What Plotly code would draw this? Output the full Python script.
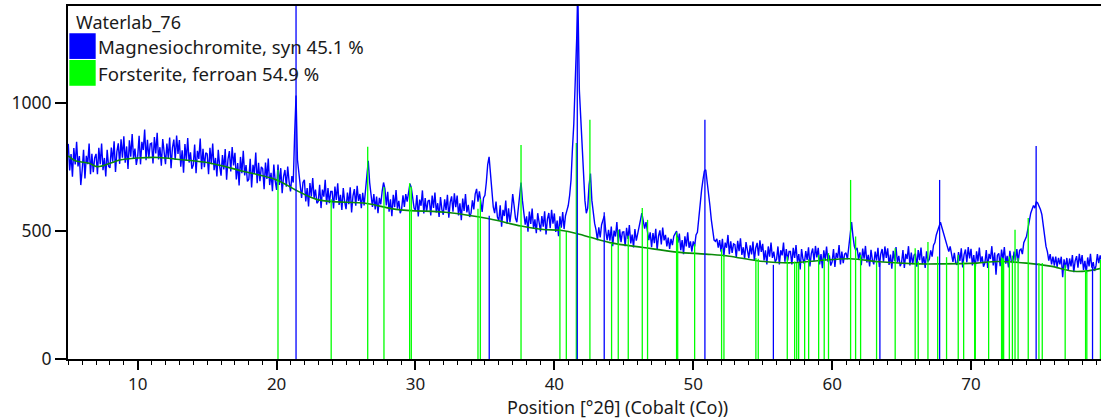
import plotly.graph_objects as go

# ---------------- data ----------------
sample_name = "Waterlab_76"
phase_names = ["Magnesiochromite, syn 45.1 %", "Forsterite, ferroan 54.9 %"]

# observed pattern, read every 0.1 deg 2theta starting at 5.0
obs_start = 5.0
obs_step = 0.1
obs_counts = [
    841, 737, 801, 713, 825, 761, 849, 753, 793, 680,   # 5
    738, 818, 706, 794, 762, 842, 722, 802, 730, 786,   # 6
    802, 722, 826, 762, 842, 738, 786, 714, 818, 754,   # 7
    747, 827, 771, 851, 731, 811, 843, 763, 859, 787,   # 8
    871, 767, 831, 743, 855, 791, 879, 783, 823, 759,   # 9
    793, 873, 761, 849, 817, 897, 777, 857, 785, 841,   # 10
    844, 764, 868, 804, 884, 780, 828, 756, 860, 796,   # 11
    762, 842, 786, 866, 746, 826, 858, 778, 874, 802,   # 12
    856, 752, 816, 728, 840, 776, 864, 768, 808, 744,   # 13
    758, 838, 726, 814, 782, 862, 742, 822, 750, 806,   # 14
    802, 722, 826, 762, 842, 738, 786, 714, 818, 754,   # 15
    717, 797, 741, 821, 701, 781, 813, 733, 829, 757,   # 16
    806, 702, 766, 678, 790, 726, 814, 718, 758, 694,   # 17
    703, 783, 671, 759, 727, 807, 687, 767, 695, 751,   # 18
    744, 664, 768, 704, 784, 680, 728, 656, 760, 696,   # 19
    661, 760, 680, 746, 648, 713, 739, 674, 752, 693,   # 20
    655, 715, 690, 880, 1030, 780, 730, 680, 630, 690,  # 21
    701, 616, 668, 596, 688, 635, 707, 629, 662, 609,   # 22
    616, 681, 590, 662, 635, 701, 603, 668, 609, 655,   # 23
    655, 589, 674, 622, 687, 602, 642, 583, 668, 615,   # 24
    586, 651, 605, 671, 573, 638, 664, 599, 677, 618,   # 25
    645, 590, 650, 600, 665, 720, 775, 690, 625, 595,   # 26
    645, 585, 635, 570, 630, 605, 655, 690, 665, 600,   # 27
    654, 576, 624, 558, 642, 594, 660, 588, 618, 570,   # 28
    585, 640, 595, 645, 615, 660, 685, 670, 625, 590,   # 29
    581, 641, 557, 623, 599, 659, 569, 629, 575, 617,   # 30
    621, 561, 639, 591, 651, 573, 609, 555, 633, 585,   # 31
    564, 624, 582, 642, 552, 612, 636, 576, 648, 594,   # 32
    639, 561, 609, 543, 627, 579, 645, 573, 603, 555,   # 33
    570, 620, 585, 645, 665, 615, 655, 605, 575, 630,   # 34
    640, 690, 760, 790, 720, 640, 595, 570, 615, 555,   # 35
    541, 601, 517, 583, 559, 619, 529, 589, 535, 577,   # 36
    645, 600, 550, 535, 585, 640, 690, 620, 560, 525,   # 37
    558, 498, 576, 528, 588, 510, 546, 492, 570, 522,   # 38
    499, 559, 517, 577, 487, 547, 571, 511, 583, 529,   # 39
    569, 497, 541, 480, 558, 513, 574, 508, 560, 580,   # 40
    600, 640, 700, 820, 920, 1080, 1300, 1400, 1050, 940,  # 41
    840, 720, 620, 570, 590, 680, 725, 620, 570, 530,   # 42
    505, 465, 515, 475, 525, 545, 560, 500, 465, 505,   # 43
    463, 518, 441, 502, 479, 535, 452, 507, 457, 496,   # 44
    497, 441, 513, 469, 524, 452, 486, 436, 508, 463,   # 45
    490, 525, 545, 570, 540, 510, 535, 490, 465, 495,   # 46
    437, 492, 453, 509, 426, 481, 503, 448, 514, 464,   # 47
    485, 440, 475, 430, 470, 445, 480, 490, 500, 455,   # 48
    490, 425, 465, 410, 480, 440, 495, 435, 460, 420,   # 49
    460, 440, 485, 495, 560, 620, 660, 700, 735, 740,   # 50
    700, 650, 600, 545, 505, 465, 460, 470, 435, 465,   # 51
    420, 470, 400, 455, 435, 485, 410, 460, 415, 450,   # 52
    447, 397, 462, 422, 472, 407, 437, 392, 457, 417,   # 53
    394, 444, 409, 459, 384, 434, 454, 404, 464, 419,   # 54
    450, 385, 425, 370, 440, 400, 455, 395, 420, 380,   # 55
    390, 440, 370, 425, 405, 455, 380, 430, 385, 420,   # 56
    420, 370, 435, 395, 445, 380, 410, 350, 430, 390,   # 57
    372, 422, 387, 437, 362, 412, 432, 382, 442, 397,   # 58
    435, 370, 410, 355, 425, 385, 440, 380, 405, 365,   # 59
    380, 430, 360, 415, 395, 445, 370, 420, 375, 410,   # 60
    415, 390, 445, 490, 535, 480, 440, 425, 435, 390,   # 61
    417, 367, 432, 392, 442, 377, 407, 362, 427, 387,   # 62
    370, 420, 385, 435, 360, 410, 430, 380, 440, 395,   # 63
    433, 368, 408, 353, 423, 383, 438, 378, 403, 363,   # 64
    376, 426, 356, 411, 391, 441, 366, 416, 371, 406,   # 65
    411, 361, 426, 386, 436, 371, 401, 356, 421, 381,   # 66
    390, 425, 400, 445, 455, 485, 505, 525, 535, 515,   # 67
    495, 470, 455, 440, 420, 440, 400, 380, 415, 375,   # 68
    368, 418, 383, 433, 358, 408, 428, 378, 438, 393,   # 69
    431, 366, 406, 351, 421, 381, 436, 376, 401, 361,   # 70
    376, 426, 356, 411, 391, 441, 366, 416, 330, 406,   # 71
    413, 363, 428, 388, 438, 373, 403, 358, 423, 383,   # 72
    375, 420, 385, 430, 380, 425, 430, 410, 455, 470,   # 73
    480, 510, 545, 570, 585, 600, 590, 615, 610, 600,   # 74
    585, 565, 520, 470, 440, 420, 385, 410, 370, 400,   # 75
    365, 400, 360, 395, 370, 400, 320, 390, 355, 395,   # 76
    348, 393, 362, 406, 339, 384, 402, 357, 411, 371,   # 77
    406, 348, 384, 335, 397, 362, 411, 357, 379, 344,   # 78
    365, 410, 375, 405, 385,                            # 79
]
obs_pos = [round(obs_start + obs_step * i, 2) for i in range(len(obs_counts))]

# fitted background
bg_pos = [5.0, 5.5, 6.5, 7.1, 8.0, 8.7, 10.0, 11.5, 13.0, 15.0, 17.5, 20.0, 21.4,
          23.0, 26.5, 28.6, 32.5, 35.3, 37.6, 39.2, 40.4, 41.8, 44.0, 46.4, 48.8,
          50.9, 52.6, 54.6, 57.0, 59.1, 61.3, 63.4, 66.1, 68.0, 70.4, 71.9, 74.0,
          75.7, 77.6, 79.4]
bg_counts = [794, 775, 765, 752, 765, 778, 786, 788, 780, 768, 735, 700, 660,
             622, 608, 585, 572, 548, 520, 506, 503, 488, 455, 436, 418,
             410, 402, 384, 376, 385, 392, 380, 372, 372, 375, 381, 375,
             363, 342, 355]

# reference sticks: Magnesiochromite (blue)
mc_pos = [21.40, 35.31, 41.65, 43.59, 50.84, 55.77, 63.44, 67.74, 74.69, 78.75]
mc_height = [1400, 560, 1400, 574, 935, 368, 375, 700, 833, 361]

# reference sticks: Forsterite (green)
fo_pos = [20.10, 23.93, 26.56, 27.73, 29.58, 29.70, 34.50, 34.67, 37.60, 40.40,
          40.86, 41.58, 42.56, 44.12, 44.60, 45.32, 46.33, 46.71, 48.80, 48.88,
          50.10, 52.04, 52.21, 54.51, 54.68, 56.77, 57.30, 57.45, 57.59, 58.02,
          58.31, 59.03, 59.43, 59.74, 61.33, 61.69, 62.05, 63.20, 64.54, 65.98,
          66.20, 66.90, 67.60, 68.24, 69.08, 69.47, 70.26, 70.31, 71.27, 72.20,
          72.28, 72.35, 72.76, 72.98, 73.17, 73.39, 74.12, 74.89, 75.13, 76.78,
          78.25, 78.34, 79.32]
fo_height = [740, 625, 830, 672, 687, 673, 587, 626, 837, 518,
             496, 844, 935, 454, 505, 482, 590, 544, 495, 476,
             449, 430, 407, 395, 392, 401, 381, 375, 375, 381,
             390, 407, 395, 414, 700, 479, 407, 381, 433, 433,
             381, 457, 401, 398, 407, 381, 371, 371, 381, 397,
             394, 390, 401, 404, 505, 395, 551, 375, 375, 368,
             349, 345, 388]

x_range = [4.98, 79.36]
y_range = [0, 1380]
x_ticks = [10, 20, 30, 40, 50, 60, 70]
y_ticks = [0, 500, 1000]
x_title = "Position [°2θ] (Cobalt (Co))"

BLUE = "#0000FF"
LIME = "#00FF00"
BG_GREEN = "#0A8A0A"
FONT = "Noto Sans"
TXT = "#1a1a1a"


def sticks(pos, h):
    xs, ys = [], []
    for p, v in zip(pos, h):
        xs += [p, p, None]
        ys += [0, v, None]
    return xs, ys


fig = go.Figure()
fig.add_trace(go.Scatter(x=obs_pos, y=obs_counts, mode="lines",
                         line=dict(color=BLUE, width=1.4), hoverinfo="skip",
                         showlegend=False))
fig.add_trace(go.Scatter(x=bg_pos, y=bg_counts, mode="lines",
                         line=dict(color=BG_GREEN, width=1.6, shape="spline"),
                         hoverinfo="skip", showlegend=False))
fx, fy = sticks(fo_pos, fo_height)
fig.add_trace(go.Scatter(x=fx, y=fy, mode="lines", line=dict(color=LIME, width=1.3),
                         showlegend=False, hoverinfo="skip"))
mx, my = sticks(mc_pos, mc_height)
fig.add_trace(go.Scatter(x=mx, y=my, mode="lines", line=dict(color=BLUE, width=1.3),
                         showlegend=False, hoverinfo="skip"))

# legend drawn as colour boxes + texts (top-left inside plot)
fig.add_shape(type="rect", xref="paper", yref="paper", x0=0.0013, x1=0.0268,
              y0=0.850, y1=0.9228, fillcolor=BLUE, line=dict(width=0))
fig.add_shape(type="rect", xref="paper", yref="paper", x0=0.0013, x1=0.0268,
              y0=0.774, y1=0.847, fillcolor=LIME, line=dict(width=0))
fig.add_annotation(xref="paper", yref="paper", x=0.0060, y=0.955, text=sample_name,
                   showarrow=False, xanchor="left", yanchor="middle",
                   font=dict(family=FONT, size=18, color=TXT))
fig.add_annotation(xref="paper", yref="paper", x=0.0275, y=0.884, text=phase_names[0],
                   showarrow=False, xanchor="left", yanchor="middle",
                   font=dict(family=FONT, size=18.6, color=TXT))
fig.add_annotation(xref="paper", yref="paper", x=0.0275, y=0.809, text=phase_names[1],
                   showarrow=False, xanchor="left", yanchor="middle",
                   font=dict(family=FONT, size=18.6, color=TXT))
fig.add_annotation(xref="paper", yref="paper", x=0.532, y=-0.1355, text=x_title,
                   showarrow=False, xanchor="center", yanchor="middle",
                   font=dict(family=FONT, size=18, color=TXT))

fig.update_layout(
    width=1102, height=419,
    margin=dict(l=68, r=1, t=6, b=60),
    paper_bgcolor="white", plot_bgcolor="white",
    font=dict(family=FONT, size=17, color=TXT),
    showlegend=False,
    xaxis=dict(range=x_range, tickvals=x_ticks, ticks="outside", ticklen=9,
               tickwidth=1.5, tickcolor="black", showline=True, linecolor="black",
               linewidth=2, mirror=True, showgrid=False, zeroline=False,
               tickfont=dict(family=FONT, size=17, color=TXT),
               minor=dict(dtick=1, ticks="outside", ticklen=4, tickwidth=1,
                          tickcolor="black", showgrid=False)),
    yaxis=dict(range=y_range, tickvals=y_ticks, ticks="outside", ticklen=11,
               tickwidth=1.5, tickcolor="black", showline=True, linecolor="black",
               linewidth=2, showgrid=False, zeroline=False,
               tickfont=dict(family=FONT, size=17.5, color=TXT)),
)

fig.write_html("out.html",
               config={"displayModeBar": False},
               post_script="document.body.style.margin='0px';"
                           "document.body.style.padding='0px';"
                           "document.body.style.overflow='hidden';")
